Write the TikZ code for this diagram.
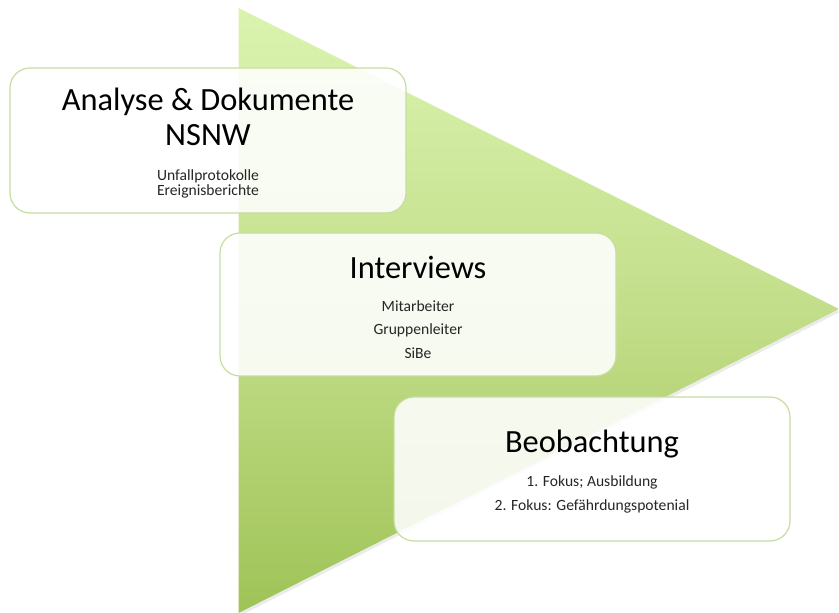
\documentclass[tikz,border=0pt]{standalone}
\usepackage{fontspec}
\setmainfont{Carlito}
\begin{document}
\definecolor{arrowtop}{HTML}{DAF4B0}
\definecolor{arrowmid}{HTML}{C3DE8A}
\definecolor{arrowbot}{HTML}{9FC357}
\definecolor{boxline}{HTML}{C6DDA0}
\begin{tikzpicture}[x=0.5pt,y=-0.5pt,
  stage/.style={draw=boxline, line width=0.6pt, fill=white, fill opacity=0.88,
    text opacity=1, rounded corners=10pt, inner sep=0pt},
  headline/.style={anchor=base, inner sep=0pt, font=\fontsize{16.2}{17}\selectfont},
  detail/.style={anchor=base, inner sep=0pt, font=\fontsize{7.8}{9}\selectfont, text=black!85}]
\useasboundingbox (0,0) rectangle (839,613);
% soft shadow under the lower edge of the arrow
\fill[black, opacity=0.08] (239.5,11) -- (840,312) -- (239.5,616) -- cycle;
% large process arrow with vertical gradient
\shade[top color=arrowtop, bottom color=arrowbot, middle color=arrowmid]
  (238.5,8) -- (839,309) -- (238.5,613) -- cycle;
% stage boxes
\path[stage] (10,68) rectangle (406,213) node[pos=0.5, draw=none, fill=none] (b1) {};
\path[stage] (220,233) rectangle (616,376) node[pos=0.5, draw=none, fill=none] (b2) {};
\path[stage] (394,397) rectangle (790,541) node[pos=0.5, draw=none, fill=none] (b3) {};
% texts of stage 1
\node[headline] (t1a) at (208,111) {Analyse \& Dokumente};
\node[headline] (t1b) at (208,146) {NSNW};
\node[detail] (d1a) at (208,181) {Unfallprotokolle};
\node[detail] (d1b) at (208,195.5) {Ereignisberichte};
% texts of stage 2
\node[headline] (t2) at (418,279) {Interviews};
\node[detail] (d2a) at (418,311.5) {Mitarbeiter};
\node[detail] (d2b) at (418,335) {Gruppenleiter};
\node[detail] (d2c) at (418,358.5) {SiBe};
% texts of stage 3
\node[headline] (t3) at (592,453) {Beobachtung};
\node[detail] (d3a) at (592,487) {1. Fokus; Ausbildung};
\node[detail] (d3b) at (592,510) {2. Fokus: Gefährdungspotenial};
\end{tikzpicture}
\end{document}
